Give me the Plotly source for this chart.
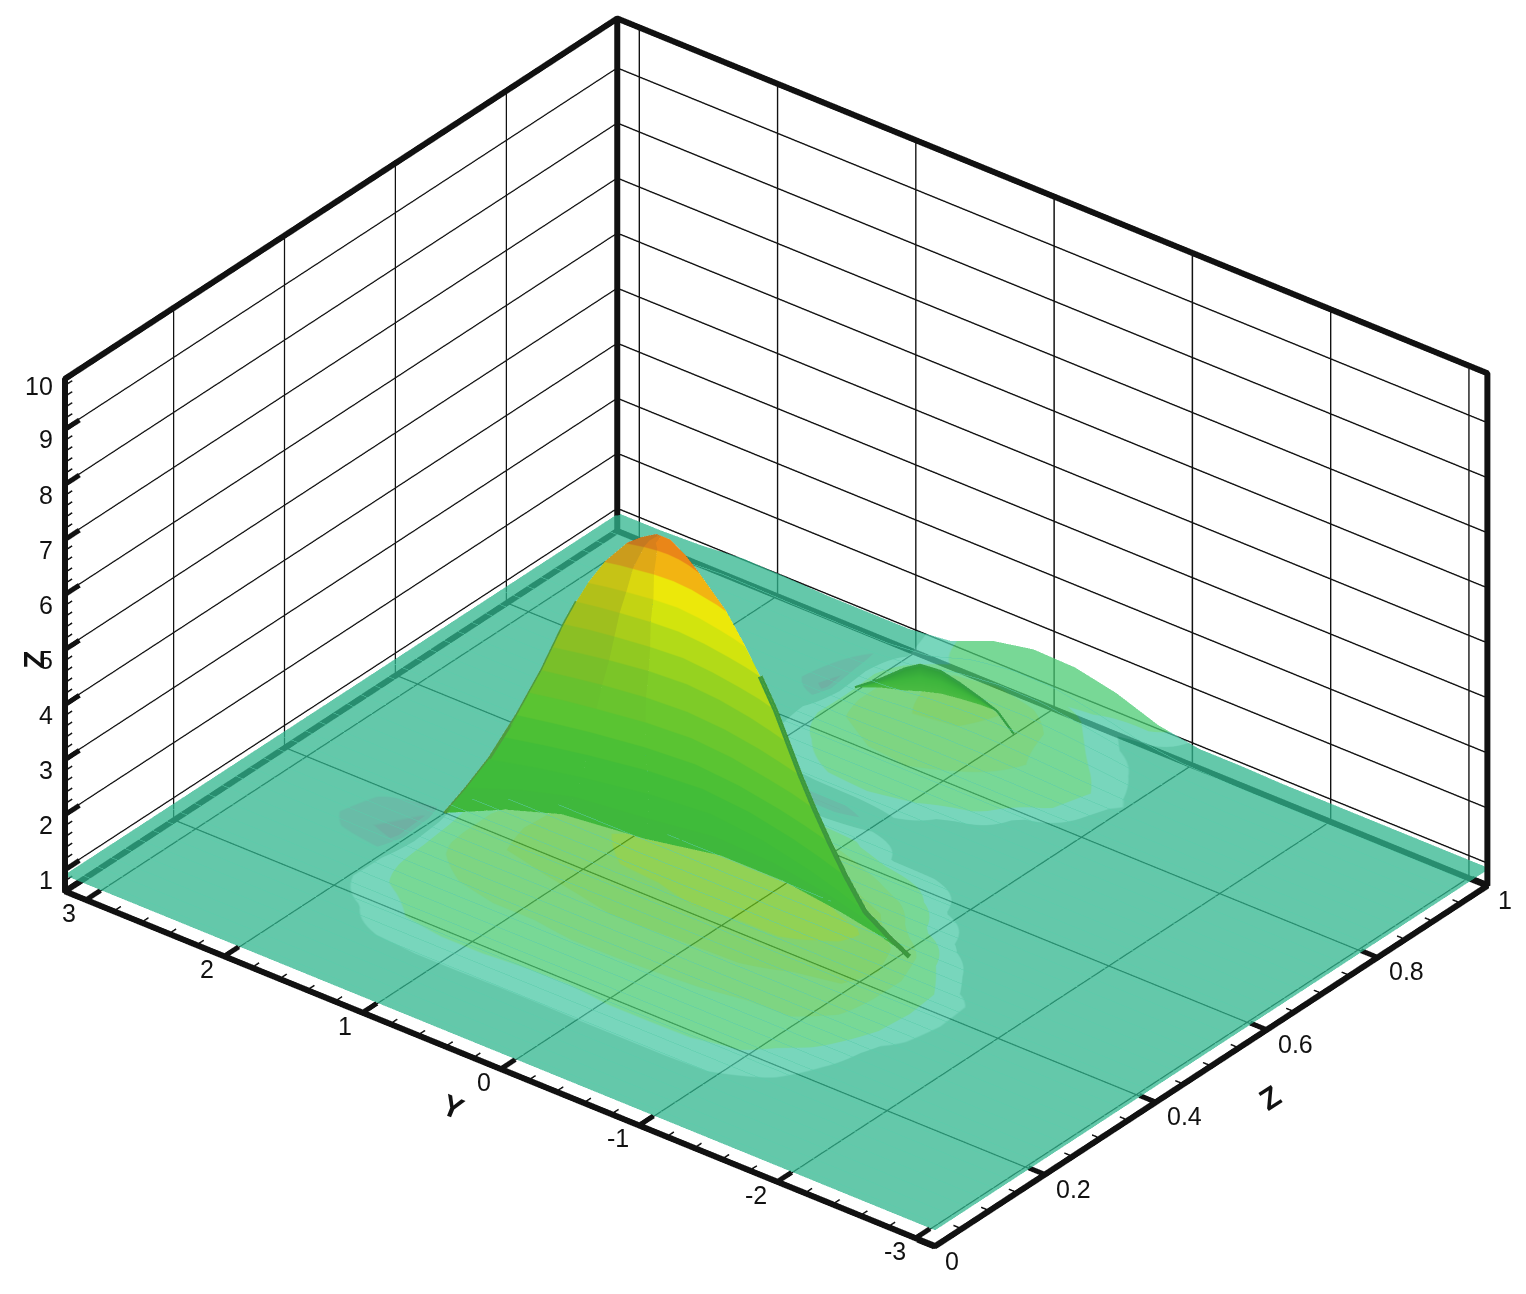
import numpy as np
import plotly.graph_objects as go

# axis ranges and ticks
Z_RANGE = [0.0, 1.0]
Y_RANGE = [-3.15, 3.16]
H_RANGE = [0.6, 9.93]
Z_TICKS = [0, 0.2, 0.4, 0.6, 0.8, 1]
Z_LABELS = ["0", "0.2", "0.4", "0.6", "0.8", "1"]
Y_TICKS = [-3, -2, -1, 0, 1, 2, 3]
H_TICKS = [1, 2, 3, 4, 5, 6, 7, 8, 9]

# sheet grid
Y_NODES = [-3.15,-2.85,-2.55,-2.25,-1.95,-1.65,-1.35,-1.05,-0.75,-0.45,-0.15,0.15,0.45,0.75,1.05,1.35,1.65,1.95,2.25,2.55,2.85,3.15]
Z_NODES = [0,0.05,0.10,0.15,0.20,0.25,0.30,0.35,0.40,0.45,0.50,0.55,0.60,0.65,0.70,0.75,0.80,0.85,0.90,0.95,1.0]
F = 0.92
FLAT = [F]*22
SHEET_H = [FLAT]*17 + [
 [F,F,F,F,F,F,F,F,.93,.97,1.0,1.0,.98,.93,F,F,F,F,F,F,F,F],
 [F,F,F,F,F,F,.93,.95,1.05,1.1,1.13,1.13,1.08,.98,.94,.93,.93,.93,.93,F,F,F],
 [F,F,F,F,F,F,.93,.96,1.05,1.2,1.33,1.34,1.24,1.02,.95,.95,.95,.96,.97,F,F,F],
 [F,F,F,F,F,F,.94,.94,1.07,1.34,1.5,1.52,1.37,1.06,.97,.97,.97,1.0,1.02,.95,F,F],
]
SHEET_V = [
 [0]*22,
 [0]*22,
 [0,0,0,0,0,0,0,.15,.15,.15,.15,.15,.15,.15,.15,.1,0,0,0,0,0,0],
 [0,0,0,0,0,0,.3,.55,.65,.65,.65,.6,.6,.65,.65,.6,.2,0,0,0,0,0],
 [0,0,0,0,0,.1,.5,.9,.95,1,1,.95,1,1,1,.9,.6,.1,0,0,0,0],
 [0,0,0,0,0,.15,.9,1.35,1.35,1.5,1.55,1.6,1.6,1.5,1.5,1.35,1,-.1,-.1,0,0,0],
 [0,0,0,0,0,.35,1.3,1.9,2.05,2.2,2.25,2.3,2.35,2.2,2.1,1.9,1.4,-.6,-.4,0,0,0],
 [0,0,0,0,0,.45,1.3,2.45,2.6,3,3,3,2.95,2.8,2.65,2.5,1.6,-.5,-.3,0,0,0],
 [0,0,0,0,0,.4,1.2,3,3.3,3.6,3.6,3.7,3.5,3.45,3.1,2.8,1.6,0,0,0,0,0],
 [0,0,0,0,0,0,.7,2.4,3.7,4,4.2,4.3,4,3.9,3.4,2.8,1.2,0,0,0,0,0],
 [0,0,0,0,0,-.2,.1,.8,2.5,3.2,4,4,4,3.5,2.8,2,.6,0,0,0,0,0],
 [0,0,0,0,0,0,0,.2,1,1.8,2.5,3,2.8,2.2,1.5,.9,.1,0,0,0,0,0],
 [0,0,0,0,0,0,0,0,.2,.2,.8,1,1,.7,.4,.1,0,0,0,0,0,0],
 [0,0,0,0,0,0,0,0,0,0,0,-.5,-.5,-.4,-.4,0,0,0,0,0,0,0],
 [0,0,0,0,0,0,0,0,0,.1,.55,.7,.65,.4,0,0,0,0,0,0,0,0],
 [0,0,0,0,0,0,0,0,.1,.9,1.1,1.3,1.15,.7,.1,0,0,0,0,0,0,0],
 [0,0,0,0,0,0,0,.1,.8,1.2,1.5,1.8,1.8,1.35,.1,0,0,0,0,0,0,0],
 [0,0,0,0,0,0,0,.3,.95,1.4,2,2.4,2.45,2,-.6,0,0,0,0,0,0,0],
 [0,0,0,0,0,0,0,.1,.5,1,2.2,2.8,2.8,1.8,-.4,0,0,0,0,0,0,0],
 [0,0,0,0,0,0,0,0,.1,.6,.8,.9,.8,.5,-.2,0,0,0,0,0,0,0],
 [0,0,0,0,0,0,0,0,1,1.2,1.2,1.2,1.2,.6,0,0,0,0,0,0,0,0],
]
SHEET_SCALE = [
 [0.0,"rgb(62,150,132)"],[0.10,"rgb(62,150,132)"],
 [0.10,"rgb(54,166,137)"],[0.15,"rgb(54,166,137)"],
 [0.15,"rgb(48,182,142)"],[0.25,"rgb(48,182,142)"],
 [0.25,"rgb(75,200,166)"],[0.34,"rgb(75,200,166)"],
 [0.34,"rgb(75,202,115)"],[0.50,"rgb(75,202,115)"],
 [0.50,"rgb(82,198,88)"],[0.70,"rgb(82,198,88)"],
 [0.70,"rgb(88,195,62)"],[0.90,"rgb(88,195,62)"],
 [0.90,"rgb(108,195,28)"],[1.0,"rgb(108,195,28)"],
]

# main hump: rows are height levels, columns run along the ridge
H1_Z = [1.0,1.3,1.7,2.2,2.7,3.2,3.7,4.2,4.7,5.2,5.65,6.15,6.65,6.85,7.02]
H1_Y = [
 [1.85,1.60,1.32,.78,.33,-.13,-.59,-.90,-1.20],
 [1.81,1.55,1.27,.79,.36,-.08,-.52,-.81,-1.10],
 [1.76,1.49,1.22,.81,.40,-.01,-.42,-.69,-.96],
 [1.66,1.41,1.16,.79,.42,.05,-.32,-.57,-.82],
 [1.56,1.33,1.11,.77,.43,.09,-.25,-.47,-.70],
 [1.47,1.26,1.06,.75,.44,.13,-.18,-.38,-.59],
 [1.38,1.19,1.01,.73,.45,.16,-.12,-.30,-.49],
 [1.30,1.13,.96,.71,.45,.20,-.06,-.23,-.40],
 [1.22,1.07,.91,.68,.46,.23,0.0,-.16,-.31],
 [1.13,1.00,.86,.66,.47,.27,.07,-.07,-.20],
 [1.04,.93,.81,.64,.48,.31,.14,.02,-.09],
 [.92,.83,.75,.62,.49,.35,.22,.14,.05],
 [.76,.71,.66,.58,.51,.43,.35,.30,.25],
 [.66,.63,.60,.555,.50,.445,.40,.37,.34],
 [.55,.54,.53,.515,.50,.485,.47,.46,.45],
]
H1_X = [
 [.362,.41,.441,.457,.481,.481,.468,.456,.44],
 [.39,.425,.45,.464,.48,.476,.461,.447,.43],
 [.42,.438,.453,.471,.48,.471,.453,.438,.42],
 [.42,.435,.448,.463,.47,.463,.448,.435,.42],
 [.42,.432,.442,.454,.46,.454,.442,.432,.42],
 [.42,.431,.439,.45,.455,.45,.439,.431,.42],
 [.42,.429,.437,.446,.45,.446,.437,.429,.42],
 [.42,.429,.437,.446,.45,.446,.437,.429,.42],
 [.42,.428,.434,.441,.445,.441,.434,.428,.42],
 [.42,.426,.431,.437,.44,.437,.431,.426,.42],
 [.42,.426,.431,.437,.44,.437,.431,.426,.42],
 [.42,.425,.428,.433,.435,.433,.428,.425,.42],
 [.42,.423,.426,.429,.43,.429,.426,.423,.42],
 [.42,.42,.42,.42,.42,.42,.42,.42,.42],
 [.42,.42,.42,.42,.42,.42,.42,.42,.42],
]
H1_LEVELS = [1.0,1.3,1.7,2.2,2.7,3.2,3.7,4.2,4.7,5.2,5.65,6.15,6.65,7.1]
H1_COLORS = ["#3fb83c","#3fbb3a","#42bd38","#4cc035","#5ac432","#6ac72e","#7ecb28","#96d220","#b2da18","#d2e40e","#ece80a","#f2b412","#ea8618"]

# second hump crescent
H2_Y = [.90,.78,.60,.49,.34,.20,.05,-.07,-.19]
H2_TOP = [.95,1.12,1.50,1.68,1.72,1.64,1.52,1.41,1.12]
H2_MID = [.95,1.04,1.30,1.45,1.52,1.50,1.46,1.41,1.12]
H2_LOW = [.95,.97,1.1,1.2,1.31,1.36,1.40,1.41,1.12]
H2_X = [.865,.88,.88,.88,.88,.88,.88,.88,.88]

def stepped(levels, colors):
    lo, hi = levels[0], levels[-1]
    out = []
    for i, c in enumerate(colors):
        out.append([(levels[i]-lo)/(hi-lo), c])
        out.append([(levels[i+1]-lo)/(hi-lo), c])
    return out

def dulled(hexes, levels, t):
    out = []
    for i, h in enumerate(hexes):
        r, g, b = int(h[1:3], 16), int(h[3:5], 16), int(h[5:7], 16)
        a = t*min(1.0, max(0.0, (levels[i]-2.7)/2.5))
        out.append("rgb(%d,%d,%d)" % (r*(1-a)+80*a, g*(1-a)+80*a, b*(1-a)+60*a))
    return out

FLATLIGHT = dict(ambient=1, diffuse=0, specular=0, fresnel=0, roughness=1)
fig = go.Figure()

fig.add_trace(go.Surface(
    x=Z_NODES, y=Y_NODES, z=np.array(SHEET_H).T, surfacecolor=np.array(SHEET_V, float).T,
    colorscale=SHEET_SCALE, cmin=-1.0, cmax=4.0, showscale=False, opacity=0.75,
    lighting=FLATLIGHT, hoverinfo="skip",
    contours=dict(x=dict(show=True, start=0.0125, end=0.9875, size=0.025,
                         color="rgb(92,205,172)", width=1))))

# the hump is split along its columns so its left flank can be duller
xa, ya = np.array(H1_X), np.array(H1_Y)
za = np.array([[h]*9 for h in H1_Z])
for c0, c1, t in ((0, 3, 0.24), (2, 4, 0.11), (3, 9, 0.0)):
    fig.add_trace(go.Surface(
        x=xa[:, c0:c1], y=ya[:, c0:c1], z=za[:, c0:c1], surfacecolor=za[:, c0:c1],
        colorscale=stepped(H1_LEVELS, dulled(H1_COLORS, H1_LEVELS, t)),
        cmin=H1_LEVELS[0], cmax=H1_LEVELS[-1], showscale=False,
        lighting=FLATLIGHT, hoverinfo="skip"))

fig.add_trace(go.Surface(
    x=[H2_X, H2_X, H2_X], y=[H2_Y, H2_Y, H2_Y], z=[H2_LOW, H2_MID, H2_TOP],
    surfacecolor=[[0]*9, [1]*9, [2]*9],
    colorscale=[[0,"#4abb42"],[0.5,"#3db53c"],[1,"#2f9e3a"]], showscale=False,
    lighting=FLATLIGHT, hoverinfo="skip"))

# darker fold along the hump edges, lower flanks only
N = 10
left_y = [r[0] for r in H1_Y][:N]; left_x = [r[0] for r in H1_X][:N]
right_y = [r[-1] for r in H1_Y][:N]; right_x = [r[-1] for r in H1_X][:N]
fig.add_trace(go.Scatter3d(x=left_x, y=left_y, z=H1_Z[:N], mode="lines",
    line=dict(color="#4f9a40", width=6), hoverinfo="skip"))
fig.add_trace(go.Scatter3d(x=right_x, y=right_y, z=H1_Z[:N], mode="lines",
    line=dict(color="#3c983e", width=10), hoverinfo="skip"))
fig.add_trace(go.Scatter3d(x=H2_X, y=H2_Y, z=H2_TOP, mode="lines",
    line=dict(color="#34a044", width=5), hoverinfo="skip"))

# box edges, kept a hair inside the clip bounds
z0, z1 = Z_RANGE[0]+0.002, Z_RANGE[1]-0.002
y0, y1 = Y_RANGE[0]+0.008, Y_RANGE[1]-0.008
h0, h1 = H_RANGE[0]+0.01, H_RANGE[1]-0.01
box = [
 (z0,y1,h0),(z0,y0,h0),(z1,y0,h0),(z1,y1,h0),(z0,y1,h0),(z0,y1,h1),(z1,y1,h1),(z1,y0,h1),(z1,y0,h0),
 (None,None,None),(z1,y1,h0),(z1,y1,h1)]
fig.add_trace(go.Scatter3d(
    x=[b[0] for b in box], y=[b[1] for b in box], z=[b[2] for b in box],
    mode="lines", line=dict(color="#111111", width=12), hoverinfo="skip"))

def tick_lines(major, minor):
    out = {"maj": ([],[],[]), "min": ([],[],[])}
    for kind, vals, dz in (("maj", major[0], 0.026), ("min", minor[0], 0.013)):
        for v in vals:
            out[kind][0].extend([z0, z0+dz, None]); out[kind][1].extend([v, v, None]); out[kind][2].extend([h0, h0, None])
    for kind, vals, dy in (("maj", major[1], 0.12), ("min", minor[1], 0.06)):
        for v in vals:
            out[kind][0].extend([v, v, None]); out[kind][1].extend([y0, y0+dy, None]); out[kind][2].extend([h0, h0, None])
    for kind, vals, dz in (("maj", major[2], 0.026), ("min", minor[2], 0.013)):
        for v in vals:
            out[kind][0].extend([z0, z0+dz, None]); out[kind][1].extend([y1, y1, None]); out[kind][2].extend([v, v, None])
    return out

Y_MINOR = [round(v, 1) for v in np.arange(-3.0, 3.01, 0.2) if abs(v-round(v)) > 1e-6]
Z_MINOR = [round(v, 2) for v in np.arange(0.05, 1.0, 0.05) if abs(v*5-round(v*5)) > 1e-6]
H_MINOR = [round(v, 1) for v in np.arange(0.8, 9.91, 0.2) if abs(v-round(v)) > 1e-6]
t = tick_lines((Y_TICKS, Z_TICKS, H_TICKS), (Y_MINOR, Z_MINOR, H_MINOR))
fig.add_trace(go.Scatter3d(x=t["maj"][0], y=t["maj"][1], z=t["maj"][2], mode="lines",
    line=dict(color="#111111", width=10), hoverinfo="skip"))
fig.add_trace(go.Scatter3d(x=t["min"][0], y=t["min"][1], z=t["min"][2], mode="lines",
    line=dict(color="#111111", width=3), hoverinfo="skip"))

FONT = "Liberation Sans"
def axis(rng, vals):
    return dict(title=dict(text=""), range=rng, autorange=False, tickmode="array", tickvals=vals,
                showticklabels=False, showgrid=True, gridcolor="#111111", gridwidth=3,
                showline=False, zeroline=False, showbackground=False,
                ticks="", showspikes=False)

def label(z, y, h, text, xa, dx, dy, size=25, angle=0):
    return dict(x=z, y=y, z=h, text=text, showarrow=False, xanchor=xa, yanchor="middle",
                xshift=dx, yshift=dy, textangle=angle,
                font=dict(family=FONT, size=size, color="#111111"))

annos = []
for v in Y_TICKS:
    annos.append(label(z0, v, h0, str(v), "right", -8, -13))
for v, s in zip(Z_TICKS, Z_LABELS):
    annos.append(label(min(v, z1), y0, h0, s, "left", 9, -14))
for v in H_TICKS:
    annos.append(label(z0, y1, v, str(v), "right", -10, -10))
annos.append(label(z0, y1, h1, "10", "right", -10, -7))
# axis titles
annos.append(label(z0, -0.1, h0, "<b>Y</b>", "center", -62, -32, 30, 22))
annos.append(label(0.5, y0, h0, "<b>Z</b>", "center", 59, -32, 30, -33))
annos.append(label(z0, y1, 5.2, "<b>Z</b>", "center", -31, -21, 30, -90))

d = np.array([-0.6721, -0.5313, 0.5158])
K = 1.382
E = 3.0
c = np.array([-0.0220, 0.0086, -0.0193])
eye = c + d*E

fig.update_layout(
    width=1526, height=1294, margin=dict(l=0, r=0, t=0, b=0),
    paper_bgcolor="white", showlegend=False,
    scene=dict(
        domain=dict(x=[0,1], y=[0,1]),
        xaxis=axis(Z_RANGE, Z_TICKS),
        yaxis=axis(Y_RANGE, Y_TICKS),
        zaxis=axis(H_RANGE, H_TICKS),
        aspectmode="manual", aspectratio=dict(x=K*1, y=K*1.2437, z=K*0.6705),
        annotations=annos,
        camera=dict(projection=dict(type="orthographic"),
                    eye=dict(x=float(eye[0]), y=float(eye[1]), z=float(eye[2])),
                    center=dict(x=float(c[0]), y=float(c[1]), z=float(c[2])),
                    up=dict(x=0, y=0, z=1)),
    ))
fig.write_html("out.html", post_script="document.body.style.margin='0';document.body.style.overflow='hidden';",
               config=dict(displayModeBar=False))
